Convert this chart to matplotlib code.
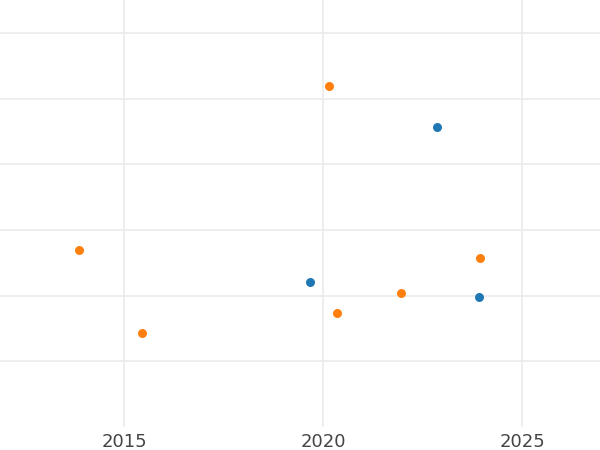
import matplotlib
matplotlib.use("Agg")
import matplotlib.pyplot as plt

# data (y in arbitrary units, grid every 10)
orange_x = [2013.87, 2015.44, 2020.14, 2020.36, 2021.95, 2023.94]
orange_y = [17.0, 4.35, 41.9, 7.35, 10.35, 15.8]
blue_x = [2019.66, 2022.87, 2023.91]
blue_y = [12.1, 35.6, 9.8]

xticks = [2015, 2020, 2025]
yticks = [0, 10, 20, 30, 40, 50]

fig = plt.figure(figsize=(6, 4.5), dpi=100)
ax = fig.add_axes([0, 0.051, 1, 0.949])

ax.scatter(blue_x, blue_y, s=42, color="#1f77b4", zorder=3, linewidths=0)
ax.scatter(orange_x, orange_y, s=42, color="#ff7f0e", zorder=3, linewidths=0)

ax.set_xlim(2011.88, 2026.96)
ax.set_ylim(-10, 55)
ax.set_xticks(xticks)
ax.set_yticks(yticks)
ax.set_yticklabels([])

ax.grid(True, color="#ebebeb", linewidth=1.2)
ax.set_axisbelow(True)
for s in ax.spines.values():
  s.set_visible(False)
ax.tick_params(axis="both", length=0)
ax.tick_params(axis="x", labelsize=13, labelcolor="#444444", pad=4.5)

fig.savefig("out.png", dpi=100)
